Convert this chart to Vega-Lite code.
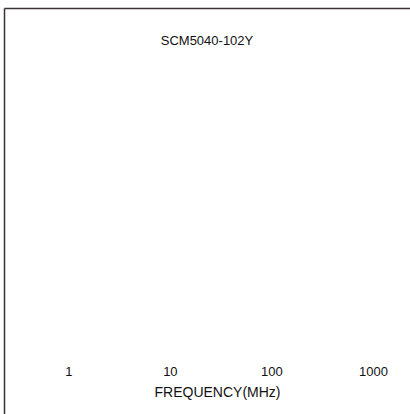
{
  "$schema": "https://vega.github.io/schema/vega-lite/v6.json",
  "width": 406,
  "height": 406,
  "autosize": "none",
  "padding": {"left": 4, "top": 8, "right": 0, "bottom": 0},
  "background": "white",
  "config": {
    "view": {"stroke": null},
    "font": "Liberation Sans",
    "axis": {"labelFont": "Liberation Sans", "titleFont": "Liberation Sans"}
  },
  "title": {
    "text": "SCM5040-102Y",
    "fontSize": 13,
    "fontWeight": "normal",
    "color": "#111",
    "anchor": "middle",
    "frame": "group",
    "offset": -40
  },
  "data": {"values": [{"freq": 1}, {"freq": 10}, {"freq": 100}, {"freq": 1000}]},
  "layer": [
    {
      "mark": {"type": "point", "opacity": 0},
      "encoding": {
        "x": {
          "field": "freq",
          "type": "quantitative",
          "scale": {"type": "log", "domain": [0.2328, 2312], "nice": false},
          "axis": {
            "orient": "bottom",
            "values": [1, 10, 100, 1000],
            "format": "d",
            "domain": false,
            "ticks": false,
            "grid": false,
            "offset": -49,
            "labelPadding": 0,
            "labelFontSize": 13,
            "labelColor": "#111",
            "labelFlush": false,
            "labelOverlap": false,
            "title": "FREQUENCY(MHz)",
            "titleFontSize": 14,
            "titleFontWeight": "normal",
            "titleColor": "#111",
            "titlePadding": 7,
            "titleX": 213
          }
        },
        "y": {
          "datum": 0,
          "type": "quantitative",
          "scale": {"domain": [0, 1]},
          "axis": {
            "domain": true,
            "domainColor": "#3a3434",
            "domainWidth": 1.5,
            "ticks": false,
            "labels": false,
            "grid": false,
            "title": null
          }
        }
      }
    },
    {
      "mark": {"type": "point", "opacity": 0},
      "encoding": {
        "x": {
          "field": "freq",
          "type": "quantitative",
          "scale": {"type": "log", "domain": [0.2328, 2312], "nice": false},
          "axis": {
            "orient": "top",
            "domain": true,
            "domainColor": "#3a3434",
            "domainWidth": 1.5,
            "ticks": false,
            "labels": false,
            "grid": false,
            "title": null
          }
        }
      }
    }
  ],
  "resolve": {"axis": {"x": "independent"}}
}
